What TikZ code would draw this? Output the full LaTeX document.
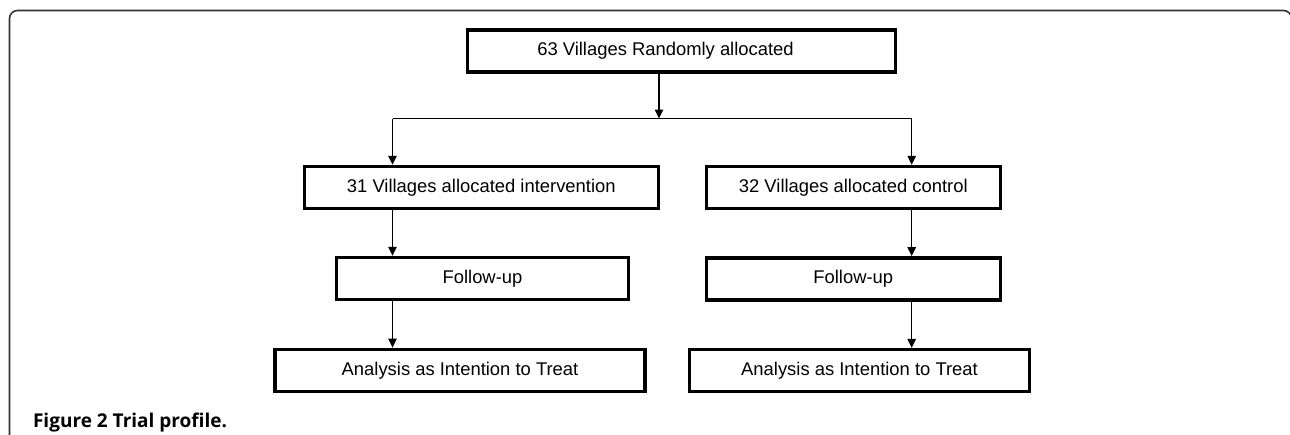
\documentclass[tikz,border=0pt]{standalone}
\usepackage{fontspec}
\setmainfont{Liberation Sans}
\newfontfamily\capfont{Open Sans}
\usetikzlibrary{arrows.meta}

\begin{document}
\begin{tikzpicture}[x=0.5pt,y=-0.5pt,
  stepbox/.style={draw, line width=1.75pt, minimum height=21pt, inner sep=0pt, font=\fontsize{9.2}{11}\selectfont},
  link/.style={line width=0.55pt},
  arr/.style={link, -{Triangle[length=4.5pt,width=4.3pt]}},
  frame/.style={line width=0.8pt, black!80, rounded corners=4pt}]
\useasboundingbox (0,0) rectangle (1290,434);
\draw[frame] (9.5,450) -- (9.5,10.5) -- (1291.5,10.5) -- (1291.5,450);

\draw (681.5,50.8)  node (top)  [stepbox, minimum width=214pt] {63 Villages Randomly allocated\hspace*{16pt}};

\draw (481.3,187.5) node (int)  [stepbox, minimum width=177pt] {31 Villages allocated intervention};
\draw (853.3,187.5) node (ctl)  [stepbox, minimum width=147pt] {32 Villages allocated control};

\draw (482.5,278.5) node (fupi) [stepbox, minimum width=146pt] {Follow-up};
\draw (853.3,278.8) node (fupc) [stepbox, minimum width=147pt] {Follow-up};

\draw (460,370.3)   node (itti) [stepbox, minimum width=185pt] {Analysis as Intention to Treat};
\draw (859.5,370.6) node (ittc) [stepbox, minimum width=170pt] {Analysis as Intention to Treat};

% split under the top box
\coordinate (split) at (659,118.5);
\coordinate (armi)  at (392.5,118.5);
\coordinate (armc)  at (911.7,118.5);
\draw[arr] (top.south -| split) -- (split);
\draw[link] (armi) -- (armc);
\draw[arr] (armi) -- (int.north -| armi);
\draw[arr] (armc) -- (ctl.north -| armc);

\draw[arr] (int.south -| armi)  -- (fupi.north -| armi);
\draw[arr] (fupi.south -| armi) -- (itti.north -| armi);
\draw[arr] (ctl.south -| armc)  -- (fupc.north -| armc);
\draw[arr] (fupc.south -| armc) -- (ittc.north -| armc);

\draw (26,427.3) node (cap) [anchor=base west, font=\capfont\bfseries\fontsize{9.5}{11}\selectfont] {Figure 2 Trial profile.};
\end{tikzpicture}
\end{document}
